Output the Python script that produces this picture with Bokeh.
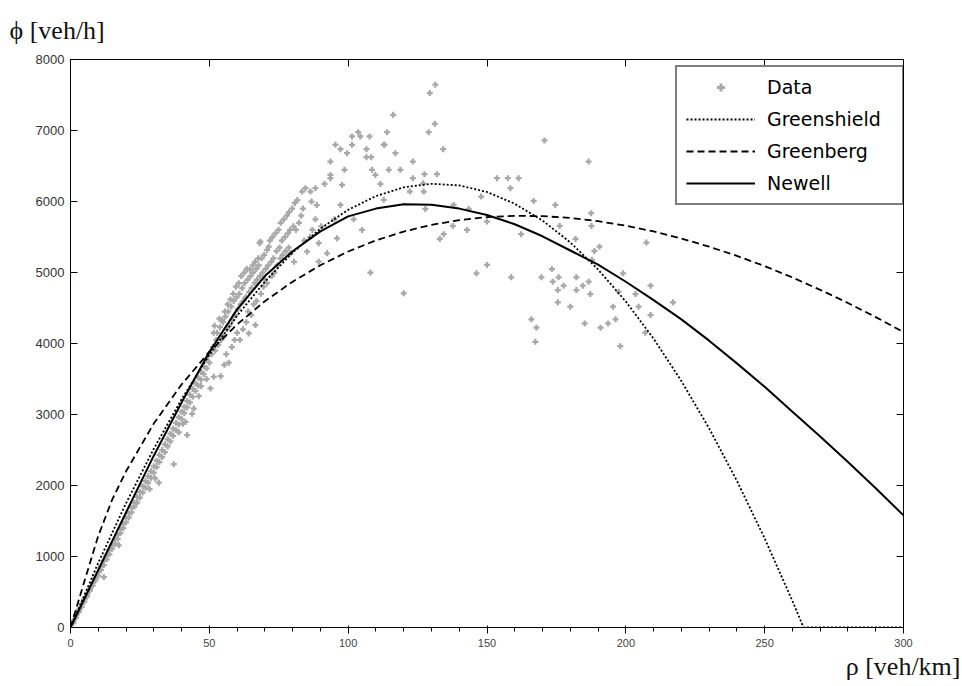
from bokeh.plotting import figure
from bokeh.models import Range1d, LinearAxis, Legend, LegendItem, Title, FixedTicker
from bokeh.embed import file_html
from bokeh.resources import INLINE

# ---------------- measured detector data: density [veh/km] and flow [veh/h] ----------------
# free-flow branch, low densities
rho_a1 = [1, 1, 2, 2, 3, 3, 4, 4, 5, 5, 6, 6, 7, 7, 8, 8, 9, 9, 10, 10]
flow_a1 = [60, 95, 140, 170, 215, 250, 290, 330, 365, 400, 440, 470, 520, 545, 590, 630, 665, 700, 730, 780]

rho_a2 = [11, 11, 12, 12, 12, 13, 13, 14, 14, 15, 15, 16, 16, 17, 17, 17.4, 18, 18, 19, 19, 20, 20]
flow_a2 = [810, 860, 880, 940, 710, 960, 1010, 1030, 1090, 1110, 1160, 1180, 1240, 1250, 1300, 1157,
           1330, 1390, 1400, 1460, 1480, 1540]

rho_a3 = [21, 21, 22, 22, 23, 23, 24, 24, 25, 25, 26, 26, 27, 27, 28, 28, 28.5, 29, 29, 30, 30, 30.5, 31.8]
flow_a3 = [1550, 1610, 1620, 1690, 1700, 1760, 1760, 1840, 1830, 1910, 1900, 1990, 1970, 2060, 2040, 2130,
           1950, 2110, 2200, 2180, 2270, 2100, 2040]

rho_a4 = [31, 31, 32, 32, 33, 33, 34, 34, 35, 35, 36, 36, 37, 37, 37.2, 38, 38, 39, 39, 39, 40, 40, 40.5, 41.4, 42]
flow_a4 = [2260, 2350, 2330, 2430, 2400, 2500, 2470, 2580, 2550, 2650, 2620, 2730, 2700, 2800, 2300, 2780,
           2880, 2860, 2960, 2750, 2940, 3040, 2870, 2896, 2710]

rho_a5 = [41, 41, 42, 42, 43, 43, 43.8, 44, 44, 44.4, 45, 45, 46, 46, 46.2, 47, 47, 47, 48, 48, 49, 49, 49,
          50, 50, 50.4, 51.6]
flow_a5 = [3020, 3110, 3100, 3190, 3170, 3280, 3010, 3250, 3360, 3084, 3330, 3440, 3410, 3520, 3258, 3490,
           3600, 3400, 3570, 3680, 3650, 3780, 3500, 3730, 3860, 3367, 3530]

# near-capacity cloud
rho_b1 = [50.8, 51.3, 51.6, 52.1, 52.5, 51.9, 53.2, 52.8, 53.6, 54.3, 53.8, 54.6, 54.1, 55.2, 54.9, 55.6,
          55.4, 56.3, 55.8, 56.6, 56.1, 57.2, 56.8, 57.6, 57.0, 58.3, 57.9, 58.6, 58.1, 59.2, 58.8, 59.6,
          59.1, 60.3, 59.8, 60.6, 60.0]
flow_b1 = [3850, 3950, 4150, 3900, 4050, 4250, 3980, 4150, 4350, 4050, 4230, 4330, 3540, 4100, 4300, 4450,
           3700, 4200, 4380, 4550, 3850, 4250, 4450, 4620, 3730, 4330, 4520, 4700, 3950, 4400, 4600, 4800,
           4050, 4480, 4650, 4850, 4150]

rho_b2 = [61.2, 60.8, 61.5, 61.0, 62.3, 61.8, 62.6, 62.1, 63.1, 62.7, 63.5, 63.3, 64.3, 63.8, 64.6, 64.0,
          64.2, 65.2, 64.8, 65.6, 65.1, 66.3, 65.8, 66.5, 66.0, 66.6, 67.2, 66.9, 67.6, 67.0, 68.3, 67.8,
          68.1, 68.6, 69.2, 68.8, 68.4, 69.5, 70.3, 69.8, 70.8, 70.1]
flow_b2 = [4550, 4700, 4950, 4050, 4600, 4780, 5000, 4200, 4650, 4850, 5050, 4300, 4720, 4900, 5040, 4450,
           4142, 4780, 4950, 5100, 4400, 4850, 5000, 5150, 4550, 4260, 4900, 5050, 5200, 4600, 4950, 5100,
           5413, 4700, 5000, 5200, 5434, 4800, 5050, 5250, 5318, 4900]

rho_b3 = [71.2, 71.4, 70.8, 72.3, 71.8, 72.5, 73.1, 72.7, 73.4, 74.2, 73.8, 74.5, 75.3, 74.9, 75.6, 76.1,
          75.7, 76.4, 77.2, 76.8, 77.5, 78.3, 77.9, 78.6, 79.1, 78.7, 79.2, 80.3, 79.8, 80.5]
flow_b3 = [5100, 5364, 4850, 5150, 5450, 4950, 5200, 5500, 5000, 5300, 5550, 5100, 5350, 5600, 5200, 5450,
           5700, 5250, 5500, 5750, 5300, 5550, 5800, 5350, 5600, 5850, 5270, 5650, 5900, 5150]

rho_b4 = [81.2, 80.8, 82.3, 81.7, 83.1, 83.4, 84.2, 83.7, 85.2, 84.6, 86.3, 86.4, 87.1, 86.8, 88.2, 88.2,
          89.4, 89.4, 88.7, 90.3]
flow_b4 = [5600, 5980, 5700, 6020, 5800, 6140, 5450, 5900, 5294, 6187, 5500, 6140, 5600, 6000, 5750, 6187,
           5413, 5152, 5950, 5650]

# scattered observations around capacity
rho_c = [91.5, 93.6, 93.6, 93.6, 95.4, 97.2, 99.6, 98.7, 97.8, 97.2, 92.4, 96, 95, 101.4, 101.4, 103.6,
         104.4, 106.6, 106.6, 107.7, 108.3, 108.6, 109.8, 105, 108, 102, 111.6,
         113.1, 114, 116.2, 117, 114.6, 118.8, 112.8, 112.8, 123.3, 123.3, 122.2, 127.2, 127.5, 132, 127,
         127.8, 129, 129.4, 131.4, 131.2, 134.2, 120, 133, 134.4, 137.7, 138, 142.8, 143.4]
flow_c = [6248, 6375, 6328, 6563, 6798, 6737, 6681, 6446, 6234, 5952, 5270, 5482, 5750, 6916, 6798, 6977,
          6916, 6737, 6624, 6916, 6624, 6446, 6375, 5600, 4999, 5750, 6248,
          6798, 6977, 7221, 6681, 6446, 6446, 6023, 6798, 6563, 6328, 6140, 6140, 6385, 6385, 6257,
          5896, 6977, 7527, 7645, 7094, 6737, 4706, 5472, 5539, 5656, 5952, 5600, 5896]

# congested branch
rho_d = [146.2, 147.9, 150, 150, 153.6, 157.5, 161.4, 158.4, 158.7, 162.3, 166, 166.8, 167.8, 167.4, 169.6,
         170.7, 173.4, 173.7, 174.6, 175.8, 175.5, 175.5, 176.2, 177.6, 180, 181.9, 182.2, 182.2, 184.5,
         185.2, 186.6, 186.6, 187.2, 187.5, 187.6, 187.8, 188.7, 190.5, 190.9, 193.6, 195.4, 196.3, 197.4,
         198, 199, 203.5, 204.6, 207, 207.4, 208.9, 208.9, 217]
flow_d = [4989, 6069, 5717, 5106, 6328, 6328, 6328, 6187, 4933, 5539, 4340, 6008, 4223, 4024, 4933,
          6860, 5049, 4870, 5952, 4933, 4753, 4580, 5656, 4814, 4518, 5472, 4933, 4753, 4814,
          4283, 6563, 4870, 4697, 5835, 5656, 5178, 5303, 5364, 4223, 4283, 4518, 4340, 4730,
          3963, 4989, 4697, 4518, 4152, 5421, 4814, 4401, 4580]

# ---------------- fitted fundamental diagrams ----------------
greenshield_rho = [0, 10, 20, 30, 40, 50, 60, 70, 80, 90, 100, 110, 120, 130, 140, 150, 160, 170, 180, 190,
                   200, 210, 220, 230, 240, 250, 260, 264, 270, 280, 290, 300]
greenshield_flow = [0, 911, 1750, 2518, 3214, 3838, 4391, 4871, 5280, 5617, 5883, 6076, 6199, 6249, 6227,
                    6134, 5968, 5732, 5424, 5043, 4591, 4068, 3472, 2805, 2066, 1255, 373, 0, 0, 0, 0, 0]

greenberg_rho = [0, 5, 10, 15, 20, 30, 40, 50, 60, 70, 80, 90, 100, 110, 120, 130, 140, 150, 160, 170, 180,
                 190, 200, 210, 220, 230, 240, 250, 260, 270, 280, 290, 300]
greenberg_flow = [0, 650, 1290, 1800, 2200, 2874, 3422, 3881, 4268, 4596, 4871, 5103, 5296, 5452, 5577,
                  5671, 5738, 5780, 5798, 5794, 5768, 5723, 5659, 5578, 5479, 5364, 5234, 5090, 4930,
                  4756, 4571, 4372, 4161]

newell_rho = [0, 10, 20, 30, 40, 50, 60, 70, 80, 90, 100, 110, 120, 130, 140, 150, 160, 170, 180, 190, 200,
              210, 220, 230, 240, 250, 260, 270, 280, 290, 300]
newell_flow = [0, 810, 1620, 2420, 3170, 3880, 4480, 4950, 5300, 5580, 5790, 5900, 5960, 5955, 5900, 5810,
               5680, 5510, 5310, 5110, 4870, 4610, 4340, 4040, 3720, 3390, 3040, 2690, 2330, 1960, 1580]

x_ticks = [0, 50, 100, 150, 200, 250, 300]
y_ticks = [0, 1000, 2000, 3000, 4000, 5000, 6000, 7000, 8000]

rho_data = rho_a1 + rho_a2 + rho_a3 + rho_a4 + rho_a5 + rho_b1 + rho_b2 + rho_b3 + rho_b4 + rho_c + rho_d
flow_data = flow_a1 + flow_a2 + flow_a3 + flow_a4 + flow_a5 + flow_b1 + flow_b2 + flow_b3 + flow_b4 + flow_c + flow_d

# ---------------- figure ----------------
p = figure(width=962, height=686, x_range=Range1d(0, 300), y_range=Range1d(0, 8000),
           output_backend="svg", toolbar_location=None,
           min_border_left=70, min_border_right=59, min_border_top=59, min_border_bottom=59)
p.background_fill_color = "white"
p.border_fill_color = "white"
p.outline_line_color = "black"
p.grid.visible = False

data_r = p.scatter(rho_data, flow_data, marker="plus", size=6,
                   fill_color="#a8a8a8", line_color=None)
gs_r = p.line(greenshield_rho, greenshield_flow, line_color="black", line_width=1.8, line_dash="2 2")
gb_r = p.line(greenberg_rho, greenberg_flow, line_color="black", line_width=1.8, line_dash="7 4")
nw_r = p.line(newell_rho, newell_flow, line_color="black", line_width=2)

top_axis = LinearAxis()
right_axis = LinearAxis()
p.add_layout(top_axis, "above")
p.add_layout(right_axis, "right")


def style_axis(ax, ticks, labelled):
    ax.ticker = FixedTicker(ticks=ticks)
    ax.major_tick_in = 7
    ax.major_tick_out = 0
    ax.minor_tick_line_color = None
    ax.axis_line_color = "black"
    ax.major_tick_line_color = "black"
    ax.major_label_text_font = "Liberation Sans"
    ax.major_label_text_font_size = "13px"
    ax.major_label_text_color = "#333333" if labelled else None


style_axis(p.xaxis[0], x_ticks, True)
style_axis(p.yaxis[0], y_ticks, True)
style_axis(top_axis, x_ticks, False)
style_axis(right_axis, y_ticks, False)
p.xaxis[0].major_label_standoff = 7
p.yaxis[0].major_label_standoff = 6

legend = Legend(items=[
    LegendItem(label="Data", renderers=[data_r]),
    LegendItem(label="Greenshield", renderers=[gs_r]),
    LegendItem(label="Greenberg", renderers=[gb_r]),
    LegendItem(label="Newell", renderers=[nw_r]),
], location=(605, 422))
legend.border_line_color = "black"
legend.border_line_width = 2
legend.background_fill_color = "white"
legend.background_fill_alpha = 1
legend.glyph_width = 69
legend.glyph_height = 20
legend.label_height = 20
legend.label_width = 126
legend.label_standoff = 12
legend.spacing = 10
legend.padding = 9
legend.label_text_font = "DejaVu Sans"
legend.label_text_font_size = "19px"
legend.label_text_color = "black"
p.add_layout(legend, "center")

# axis titles in the margins: flow label top-left, density label bottom-right
p.title.text = "ϕ [veh/h]"
p.title.align = "left"
p.title.vertical_align = "top"
p.title.offset = -61
p.title.standoff = 26
p.title.text_font = "Liberation Serif"
p.title.text_font_size = "26px"
p.title.text_font_style = "normal"
p.title.text_color = "#111111"

x_title = Title(text="ρ [veh/km]", align="right", offset=-57, standoff=0, text_font="Liberation Serif",
                text_font_size="26px", text_font_style="normal", text_color="#111111")
p.add_layout(x_title, "below")

open("out.html", "w").write(file_html(p, INLINE))
